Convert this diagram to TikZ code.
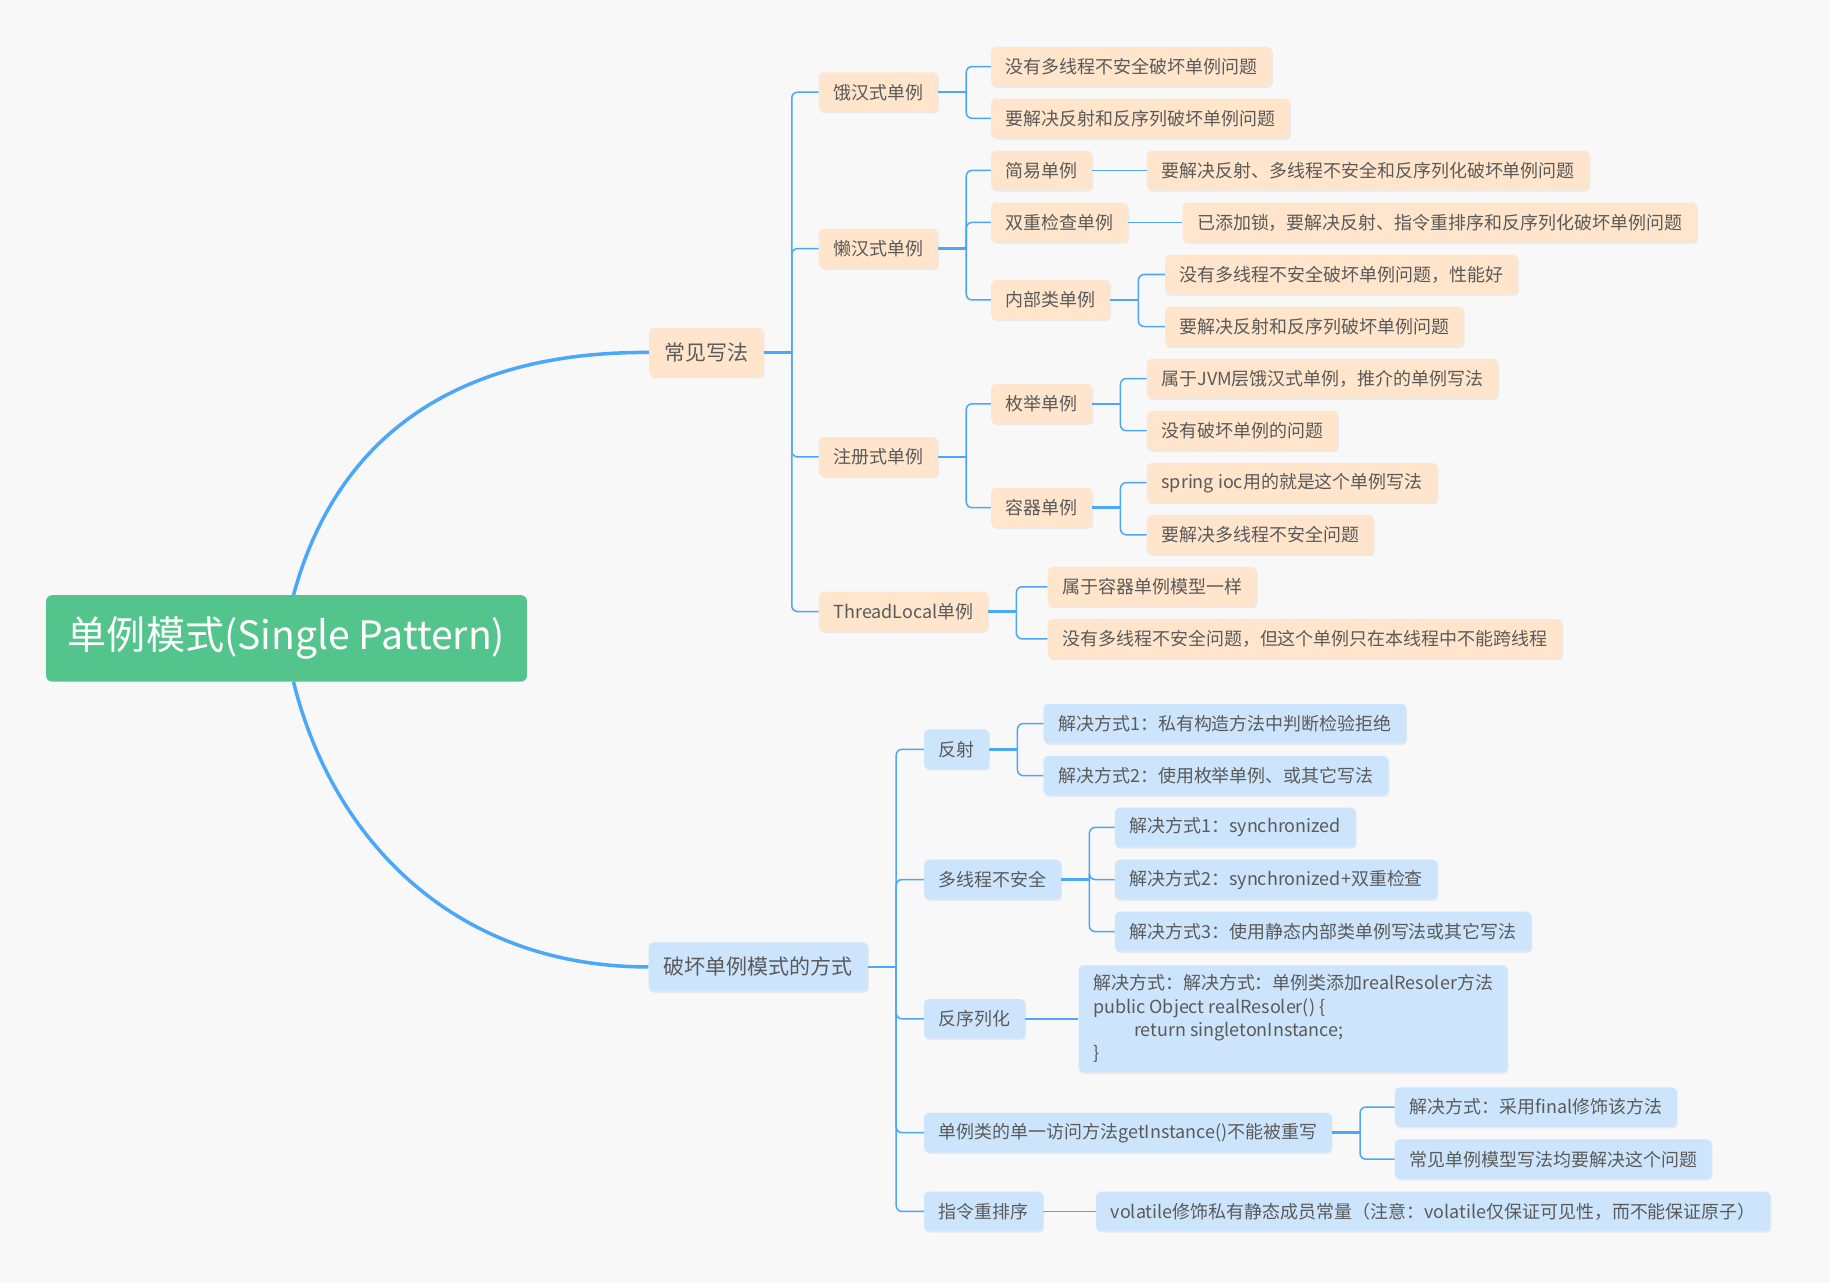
\documentclass[tikz,border=0pt]{standalone}
\usepackage{fontspec}
\setmainfont{Noto Sans CJK SC}
\usetikzlibrary{positioning}
\usetikzlibrary{shadows}
\definecolor{bg}{HTML}{F8F8F8}
\definecolor{peach}{HTML}{FFE5CB}
\definecolor{sky}{HTML}{CDE5FC}
\definecolor{leafgreen}{HTML}{52C48C}
\definecolor{wire}{HTML}{4BA7F7}
\definecolor{txt}{HTML}{5A5A5A}
\tikzset{
  box/.style={rounded corners=4pt,inner xsep=12.5pt,inner ysep=0pt,minimum height=34pt,
    text=txt,font=\fontsize{15.4}{20}\selectfont,anchor=west,
    drop shadow={shadow xshift=0.8pt,shadow yshift=-1.2pt,opacity=0.12}},
  warm/.style={box,fill=peach},
  cool/.style={box,fill=sky},
  topic/.style={minimum height=42pt,inner xsep=13pt,font=\fontsize{18}{22}\selectfont},
  link/.style={draw=wire,line width=1.3pt,rounded corners=5pt},
  stub/.style={draw=wire,line width=2.2pt},
  trunk/.style={draw=wire,line width=3pt}
}
\begin{document}
\begin{tikzpicture}[x=1pt,y=-1pt]
\fill[bg] (0,0) rectangle (1568,1099.3);
\useasboundingbox (0,0) rectangle (1568,1099.3);
% main topic
\node[rounded corners=5pt,fill=leafgreen,text=white,minimum width=412pt,minimum height=74pt,
  font=\fontsize{33.5}{38}\selectfont] (root) at (245.5,547) {单例模式(Single Pattern)};
\node[warm,topic] (common) at (556,302) {常见写法};
\node[cool,topic] (broken) at (555.5,828.5) {破坏单例模式的方式};
% common ways
\node[warm] (hungry) at (701.5,79) {饿汉式单例};
\node[warm] (lazy) at (701.5,213) {懒汉式单例};
\node[warm] (reg) at (701.5,391.5) {注册式单例};
\node[warm] (tl) at (701.5,524) {ThreadLocal单例};
\node[warm] (h1) at (849,57) {没有多线程不安全破坏单例问题};
\node[warm] (h2) at (849,101.4) {要解决反射和反序列破坏单例问题};
\node[warm] (simple) at (849,146) {简易单例};
\node[warm] (dbl) at (849,190.6) {双重检查单例};
\node[warm] (inner) at (849,257) {内部类单例};
\node[warm] (s1) at (982.5,146) {要解决反射、多线程不安全和反序列化破坏单例问题};
\node[warm] (d1) at (1013,190.6) {已添加锁，要解决反射、指令重排序和反序列化破坏单例问题};
\node[warm] (i1) at (998,235.2) {没有多线程不安全破坏单例问题，性能好};
\node[warm] (i2) at (998,279.8) {要解决反射和反序列破坏单例问题};
\node[warm] (enum) at (849,346) {枚举单例};
\node[warm] (cont) at (849,435) {容器单例};
\node[warm] (e1) at (982.5,324.4) {属于JVM层饿汉式单例，推介的单例写法};
\node[warm] (e2) at (982.5,369) {没有破坏单例的问题};
\node[warm] (c1) at (982.5,413.6) {spring ioc用的就是这个单例写法};
\node[warm] (c2) at (982.5,458.2) {要解决多线程不安全问题};
\node[warm] (t1) at (897.5,502.8) {属于容器单例模型一样};
\node[warm] (t2) at (897.5,547.4) {没有多线程不安全问题，但这个单例只在本线程中不能跨线程};
% ways to break it
\node[cool] (refl) at (791.6,642) {反射};
\node[cool] (multi) at (791.6,753.6) {多线程不安全};
\node[cool] (ser) at (791.6,873) {反序列化};
\node[cool] (getinst) at (791.6,970.5) {单例类的单一访问方法getInstance()不能被重写};
\node[cool] (order) at (791.6,1038) {指令重排序};
\node[cool] (r1) at (894,620) {解决方式1：私有构造方法中判断检验拒绝};
\node[cool] (r2) at (894,664.6) {解决方式2：使用枚举单例、或其它写法};
\node[cool] (m1) at (955,709) {解决方式1：synchronized};
\node[cool] (m2) at (955,753.6) {解决方式2：synchronized+双重检查};
\node[cool] (m3) at (955,798.2) {解决方式3：使用静态内部类单例写法或其它写法};
\node[cool,align=left,inner ysep=8pt] (s2) at (924,873) {解决方式：解决方式：单例类添加realResoler方法\\
  public Object realResoler() \{\\
  \hspace*{35pt}return singletonInstance;\\
  \}};
\node[cool] (g1) at (1195,948.6) {解决方式：采用final修饰该方法};
\node[cool] (g2) at (1195,993.2) {常见单例模型写法均要解决这个问题};
\node[cool] (o1) at (939,1038) {volatile修饰私有静态成员常量（注意：volatile仅保证可见性，而不能保证原子）};
% connectors
\draw[trunk] ([xshift=6pt]root.north) .. controls (288,375) and (390,301) .. (common.west);
\draw[trunk] ([xshift=6pt]root.south) .. controls (285,720) and (390,828.5) .. (broken.west);
\foreach \p/\kids in {common/{hungry,lazy,reg,tl},hungry/{h1,h2},lazy/{simple,dbl,inner},
    inner/{i1,i2},reg/{enum,cont},enum/{e1,e2},cont/{c1,c2},tl/{t1,t2},
    broken/{refl,multi,ser,getinst,order},refl/{r1,r2},multi/{m1,m2,m3},getinst/{g1,g2}}{
  \coordinate (j-\p) at ([xshift=24pt]\p.east);
  \draw[stub] (\p.east) -- (j-\p);
  \foreach \c in \kids \draw[link] (j-\p) |- (\c.west);
}
\draw[link] (simple) -- (s1);
\draw[link] (dbl) -- (d1);
\draw[link] (ser) -- (s2);
\draw[link] (order) -- (o1);
\end{tikzpicture}
\end{document}
